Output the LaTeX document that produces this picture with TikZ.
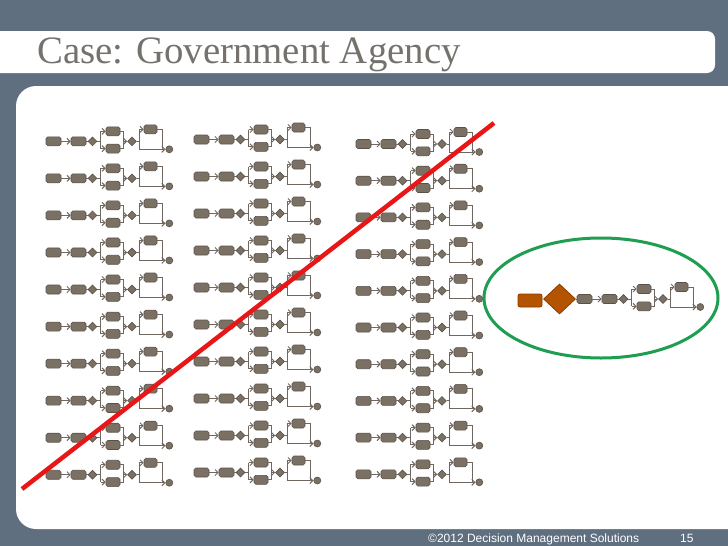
\documentclass[tikz,border=0pt]{standalone}
\usepackage{fontspec}
\usetikzlibrary{shapes.geometric,arrows.meta}
\newfontfamily\titlefont{Liberation Serif}
\newfontfamily\footfont{Liberation Sans}
\definecolor{bgc}{RGB}{95,111,128}
\definecolor{boxf}{RGB}{123,112,100}
\definecolor{boxd}{RGB}{90,82,74}
\definecolor{linec}{RGB}{112,104,96}
\definecolor{orgf}{RGB}{180,84,0}
\definecolor{orgd}{RGB}{138,60,0}
\definecolor{grn}{RGB}{30,158,80}
\definecolor{redl}{RGB}{232,22,22}
\definecolor{titlec}{RGB}{117,114,110}
\tikzset{
  bx/.style={draw=boxd, fill=boxf, rounded corners=1.8pt, line width=0.6pt, minimum width=14pt, minimum height=9pt, inner sep=0pt},
  dm/.style={draw=boxd, fill=boxf, diamond, line width=0.6pt, minimum width=9pt, minimum height=9pt, inner sep=0pt},
  ln/.style={draw=linec, line width=1pt},
  ar/.style={ln, -{Straight Barb[length=3pt,width=6pt]}},
  proc/.pic={
    \node[bx, minimum width=15pt] (-a) at (7.5,0) {};
    \node[bx, minimum width=15pt] (-b) at (32.5,0) {};
    \node[dm] (-d1) at (46.5,0) {};
    \coordinate (-s1) at (54.5,0);
    \coordinate (-s1t) at (54.5,-10);
    \coordinate (-s1b) at (54.5,7.3);
    \node[bx] (-p) at (67,-10) {};
    \node[bx] (-q) at (67,7.3) {};
    \coordinate (-m1t) at (77,-10);
    \coordinate (-m1b) at (77,7.3);
    \coordinate (-m1) at (77,0);
    \node[dm] (-d2) at (86,0) {};
    \coordinate (-s2) at (93,0);
    \coordinate (-s2t) at (93,-12);
    \coordinate (-s2b) at (93,8);
    \node[bx, minimum width=13pt] (-r) at (104.5,-12) {};
    \coordinate (-m2t) at (116,-12);
    \coordinate (-m2b) at (116,8);
    \node[circle, draw=boxd, fill=boxf, line width=0.6pt, minimum size=7pt, inner sep=0pt] (-c) at (123.3,8) {};
    \draw[ar] (-a) -- (-b);
    \draw[ln] (-b) -- (-d1);
    \draw[ln] (-d1) -- (-s1);
    \draw[ln] (-s1t) -- (-s1b);
    \draw[ar] (-s1t) -- (-p);
    \draw[ar] (-s1b) -- (-q);
    \draw[ln] (-p) -- (-m1t) -- (-m1b) -- (-q);
    \draw[ar] (-m1) -- (-d2);
    \draw[ln] (-d2) -- (-s2);
    \draw[ln] (-s2t) -- (-s2b);
    \draw[ar] (-s2t) -- (-r);
    \draw[ar] (-s2b) -- (-c);
    \draw[ln] (-r) -- (-m2t) -- (-m2b);
  }
}
\begin{document}
\begin{tikzpicture}[x=1pt,y=-1pt]
\useasboundingbox (0,0) rectangle (728,546);
\clip (0,0) rectangle (728,546);
\fill[bgc] (0,0) rectangle (728,546);
% title bar
\fill[white, rounded corners=8pt] (-20,31) rectangle (715,73);
\node[anchor=base west, inner sep=0pt, text=titlec, font=\titlefont\fontsize{38.8}{42}\selectfont] (title) at (37,63) {Case: Government Agency};
% panel
\fill[white, rounded corners=20pt] (16,86) rectangle (760,529);
% footer
\node[anchor=base west, inner sep=0pt, text=white, font=\footfont\fontsize{12}{14}\selectfont] (foot) at (428,542) {©2012 Decision Management Solutions};
\node[anchor=base west, inner sep=0pt, text=white, font=\footfont\fontsize{12}{14}\selectfont] (pnum) at (680,542) {15};
% process grid
\foreach \i in {0,...,9} {
  \pic (ca\i) at (46,{141.3+37.05*\i}) {proc};
  \pic (cb\i) at (194,{139.5+37.0*\i}) {proc};
  \pic (cc\i) at (356,{144+36.7*\i}) {proc};
}
% highlighted process
\node[ellipse, draw=grn, line width=3pt, minimum width=234pt, minimum height=120pt] (ell) at (601,298) {};
\node[draw=orgd, fill=orgf, rounded corners=2pt, minimum width=24pt, minimum height=13pt, inner sep=0pt, line width=0.8pt] (ob) at (530,300.5) {};
\node[diamond, draw=orgd, fill=orgf, minimum width=32pt, minimum height=30pt, inner sep=0pt, line width=0.8pt] (od) at (559.5,299) {};
\pic (e) at (577,299) {proc};
\draw[ln] (od) -- (e-a);
% red strike line
\coordinate (rl1) at (494,123);
\coordinate (rl2) at (22,489);
\draw[redl, line width=4.5pt] (rl1) -- (rl2);
\end{tikzpicture}
\end{document}
